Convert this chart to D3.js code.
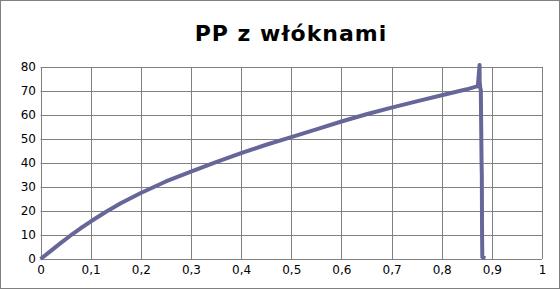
<!DOCTYPE html>
<html>
<head>
<meta charset="utf-8">
<script src="https://cdn.jsdelivr.net/npm/d3@7"></script>
<style>
  body { margin: 0; background: #fff; }
  svg { display: block; font-family: "DejaVu Sans", sans-serif; }
</style>
</head>
<body>
<svg id="chart" width="560" height="289"></svg>
<script>
const strain = [0, 0.01, 0.02, 0.04, 0.06, 0.08, 0.1, 0.13, 0.16, 0.2, 0.25, 0.3, 0.35, 0.4, 0.45,
  0.5, 0.55, 0.6, 0.65, 0.7, 0.75, 0.8, 0.85, 0.872, 0.8755, 0.8757, 0.877, 0.878, 0.879, 0.8795, 0.88, 0.8805, 0.881, 0.887]
const stress = [0, 1.6, 3.3, 6.6, 9.8, 12.8, 15.6, 19.6, 23.2, 27.5, 32.3, 36.4, 40.4, 44.1, 47.6,
  50.8, 54, 57.3, 60.3, 63.1, 65.7, 68.2, 70.7, 72, 80.8, 74, 71, 70.5, 50, 40, 35, 10, 0.8, 0.3]
const xTicks = [0, 0.1, 0.2, 0.3, 0.4, 0.5, 0.6, 0.7, 0.8, 0.9, 1]
const yTicks = [0, 10, 20, 30, 40, 50, 60, 70, 80]

const svg = d3.select("#chart")
const mLeft = 40.5, mRight = 542, mTop = 67, mBottom = 259

svg.append("rect")
   .attr("x", 0.5).attr("y", 0.5)
   .attr("width", 559).attr("height", 288)
   .attr("fill", "white").attr("stroke", "#808080")

svg.append("text")
   .attr("x", 291).attr("y", 41)
   .attr("text-anchor", "middle")
   .attr("font-size", 22).attr("font-weight", "bold")
   .attr("letter-spacing", 1)
   .text("PP z włóknami")

const x = d3.scaleLinear().domain([0, 1]).range([mLeft, mRight])
const y = d3.scaleLinear().domain([0, 80]).range([mBottom, mTop])

const fmt = d => String(d).replace(".", ",")

const grid = svg.append("g").attr("stroke", "#808080").attr("stroke-width", 1)
grid.selectAll(".v").data(xTicks).enter().append("line")
    .attr("x1", d => Math.round(x(d)) + 0.5).attr("x2", d => Math.round(x(d)) + 0.5)
    .attr("y1", mTop).attr("y2", mBottom)
grid.selectAll(".h").data(yTicks).enter().append("line")
    .attr("x1", mLeft).attr("x2", mRight)
    .attr("y1", d => Math.round(y(d)) + 0.5).attr("y2", d => Math.round(y(d)) + 0.5)

const axX = d3.axisBottom(x).tickValues(xTicks).tickFormat(fmt).tickSize(0).tickPadding(6)
const axY = d3.axisLeft(y).tickValues(yTicks).tickSize(0).tickPadding(4)

const gx = svg.append("g").attr("transform", `translate(0, ${mBottom})`).call(axX)
const gy = svg.append("g").attr("transform", `translate(${mLeft - 0.5}, 0)`).call(axY)
gx.select(".domain").remove()
gy.select(".domain").remove()
svg.selectAll(".tick text").attr("font-size", 12).attr("fill", "#000")
  .attr("font-family", "DejaVu Sans, sans-serif")

const pts = strain.map((s, i) => [s, stress[i]])
svg.append("path")
   .datum(pts)
   .attr("fill", "none")
   .attr("stroke", "#666699")
   .attr("stroke-width", 4)
   .attr("stroke-linejoin", "round")
   .attr("d", d3.line().x(d => x(d[0])).y(d => y(d[1])))
</script>
</body>
</html>
